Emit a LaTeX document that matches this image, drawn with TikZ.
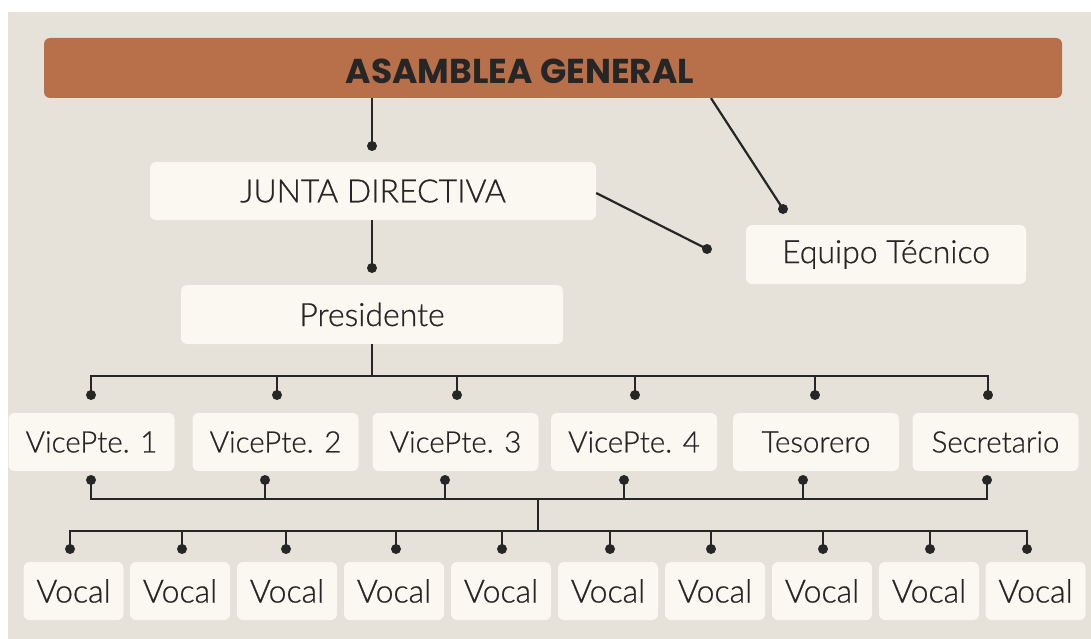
\documentclass[tikz,border=0pt]{standalone}
\usepackage{fontspec}
\setmainfont{Lato Light}[BoldFont=Lato Light, BoldFeatures={FakeBold=0.7}]
\newfontfamily\titlef{Poppins}
\definecolor{bgc}{HTML}{E6E2DA}
\definecolor{boxc}{HTML}{FBF7F1}
\definecolor{barc}{HTML}{B8704A}
\definecolor{txt}{HTML}{262626}
\definecolor{ln}{HTML}{262626}
\tikzset{
  box/.style={fill=boxc, rounded corners=6pt, inner sep=0pt, text=txt, font=\bfseries\fontsize{32}{35}\selectfont},
  vbox/.style={box, minimum width=100, minimum height=58},
  mbox/.style={box, minimum width=166, minimum height=58, font=\bfseries\fontsize{29.5}{32}\selectfont},
  conn/.style={draw=ln, line width=2.2pt},
  dotc/.style={fill=ln}
}
\begin{document}
\begin{tikzpicture}[x=1pt,y=-1pt]
\useasboundingbox (0,0) rectangle (1091,639);
\fill[white] (0,0) rectangle (1091,639);
\fill[bgc] (8,12) rectangle (1091,639);

% title bar
\node[fill=barc, rounded corners=6pt, minimum width=1018, minimum height=60, inner sep=0pt] (title) at (553,68) {};
\node[text=txt, font=\titlef\bfseries\fontsize{34.5}{37}\selectfont, inner sep=0pt] (titletext) at (520,71) {ASAMBLEA GENERAL};

% upper boxes
\node[box, minimum width=446, minimum height=58] (jd) at (373,191) {JUNTA DIRECTIVA};
\node[box, minimum width=280, minimum height=59] (eq) at (886,254.5) {Equipo Técnico};
\node[box, minimum width=382, minimum height=59] (pres) at (372,314.5) {Presidente};

% middle row
\node[mbox] (v1) at (91.5,442) {VicePte. 1};
\node[mbox] (v2) at (275.5,442) {VicePte. 2};
\node[mbox] (v3) at (455.5,442) {VicePte. 3};
\node[mbox] (v4) at (634,442) {VicePte. 4};
\node[mbox] (v5) at (816,442) {Tesorero};
\node[mbox] (v6) at (995.5,442) {Secretario};

% vocal row
\foreach \i/\x in {1/73.5,2/180,3/287,4/394,5/501,6/608,7/715,8/822,9/929,10/1035.5}{
  \node[vbox] (w\i) at (\x,591) {Vocal};
}

% connectors upper
\coordinate (d0) at (372,146);
\draw[conn] (title.south -| d0) -- (d0);
\coordinate (d1) at (372,268);
\draw[conn] (jd.south -| d1) -- (d1);
\coordinate (d2) at (783,209);
\path (title.south) ++(158,0) coordinate (t2);
\draw[conn] (t2) -- (d2);
\coordinate (d3) at (707,249);
\draw[conn] (jd.east) ++(0,2) coordinate (je) -- (d3);
\foreach \c in {d0,d1,d2,d3} \fill[dotc] (\c) circle (5);

% presidente to middle row
\coordinate (busA) at (372,376);
\foreach \i/\x in {1/91,2/277,3/457,4/635,5/815,6/988}{
  \coordinate (u\i) at (\x,395);
}
\draw[conn] (pres.south) -- (busA);
\draw[conn] (u1) -- (u1 |- busA) -- (u6 |- busA) -- (u6);
\foreach \i in {2,...,5} \draw[conn] (u\i) -- (u\i |- busA);
\foreach \i in {1,...,6} \fill[dotc] (u\i) circle (5);

% middle row to lower bus
\coordinate (busB) at (538,499);
\foreach \i/\x in {1/91,2/265,3/445,4/624,5/803,6/987}{
  \coordinate (l\i) at (\x,480);
}
\draw[conn] (l1) -- (l1 |- busB) -- (l6 |- busB) -- (l6);
\foreach \i in {2,...,5} \draw[conn] (l\i) -- (l\i |- busB);
\foreach \i in {1,...,6} \fill[dotc] (l\i) circle (5);

% lower bus to vocals
\coordinate (busC) at (538,531);
\draw[conn] (busB) -- (busC);
\foreach \i/\x in {1/70,2/182,3/286,4/396,5/502,6/610,7/711,8/823,9/930,10/1027}{
  \coordinate (p\i) at (\x,549);
}
\draw[conn] (p1) -- (p1 |- busC) -- (p10 |- busC) -- (p10);
\foreach \i in {2,...,9} \draw[conn] (p\i) -- (p\i |- busC);
\foreach \i in {1,...,10} \fill[dotc] (p\i) circle (5);
\end{tikzpicture}
\end{document}
